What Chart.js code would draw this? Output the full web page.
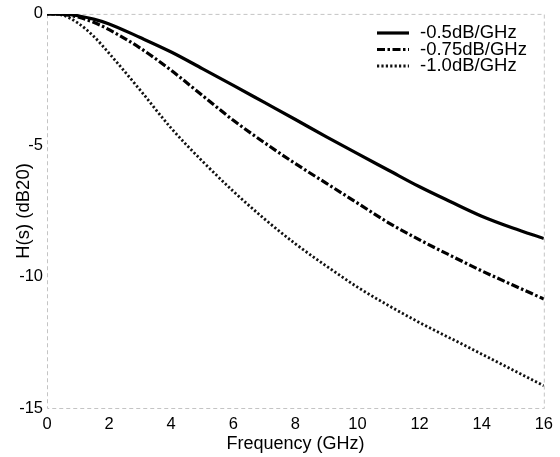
<!DOCTYPE html>
<html>
<head>
<meta charset="utf-8">
<script src="https://cdn.jsdelivr.net/npm/chart.js@4/dist/chart.umd.min.js"></script>
<style>
  body { margin: 0; background: #fff; }
  canvas { display: block; }
</style>
</head>
<body>
<canvas id="loss-chart" width="560" height="457"></canvas>
<script>
// frequency points (GHz) and the three loss curves (dB20)
const freq = [0, 0.5, 1, 1.5, 2, 3, 4, 5, 6, 7, 8, 9, 10, 11, 12, 13, 14, 15, 16];
const loss05 = [0, -0.01, -0.07, -0.2, -0.38, -0.9, -1.45, -2.08, -2.72, -3.37, -4.02, -4.68, -5.32, -5.95, -6.58, -7.15, -7.7, -8.15, -8.55];
const loss075 = [0, -0.02, -0.12, -0.32, -0.6, -1.3, -2.15, -3.1, -4.05, -4.9, -5.7, -6.45, -7.2, -7.95, -8.6, -9.2, -9.78, -10.32, -10.85];
const loss10 = [0, -0.05, -0.35, -0.85, -1.5, -2.9, -4.35, -5.6, -6.75, -7.8, -8.75, -9.6, -10.4, -11.1, -11.75, -12.35, -12.95, -13.55, -14.15];
const seriesLabels = ['-0.5dB/GHz', '-0.75dB/GHz', '-1.0dB/GHz'];
const xTicks = [0, 2, 4, 6, 8, 10, 12, 14, 16];
const yTicks = [0, -5, -10, -15];

const FONT = 'Arial, "Liberation Sans", sans-serif';

function points(values) {
    return freq.map((f, i) => ({ x: f, y: values[i] }));
}

// faint scanned-looking frame round the plot area
const framePlugin = {
    id: 'frame',
    beforeDatasetsDraw(chart) {
        const { ctx, chartArea: a } = chart;
        ctx.save();
        ctx.strokeStyle = '#c4c4c4';
        ctx.lineWidth = 1;
        ctx.setLineDash([4, 3]);
        ctx.strokeRect(a.left + 0.5, a.top + 0.5, a.right - a.left, a.bottom - a.top);
        ctx.restore();
    }
};

// legend drawn inside the plot, top right
const legendPlugin = {
    id: 'insideLegend',
    afterDatasetsDraw(chart) {
        const ctx = chart.ctx;
        ctx.save();
        chart.data.datasets.forEach((ds, i) => {
            const y = 33 + i * 16.5;
            ctx.strokeStyle = ds.borderColor;
            ctx.lineWidth = ds.borderWidth;
            ctx.setLineDash(ds.borderDash || []);
            ctx.beginPath();
            ctx.moveTo(377, y);
            ctx.lineTo(409, y);
            ctx.stroke();
            ctx.setLineDash([]);
            ctx.fillStyle = '#000';
            ctx.font = '18.5px ' + FONT;
            ctx.textBaseline = 'middle';
            ctx.textAlign = 'left';
            ctx.fillText(ds.label, 420, y);
        });
        ctx.restore();
    }
};

new Chart(document.querySelector('#loss-chart').getContext('2d'), {
    type: 'line',
    data: {
        datasets: [
            { label: seriesLabels[0], data: points(loss05), borderColor: '#000', borderWidth: 3.2, borderDash: [] },
            { label: seriesLabels[1], data: points(loss075), borderColor: '#000', borderWidth: 3.2, borderDash: [8, 2.5, 2.5, 2.5] },
            { label: seriesLabels[2], data: points(loss10), borderColor: '#111', borderWidth: 2.8, borderDash: [2.2, 2.2] }
        ]
    },
    options: {
        responsive: false,
        animation: false,
        layout: { padding: { top: 13, right: 15, left: 0, bottom: 0 } },
        elements: {
            point: { radius: 0 },
            line: { cubicInterpolationMode: 'monotone', borderCapStyle: 'butt' }
        },
        plugins: {
            legend: { display: false },
            tooltip: { enabled: false }
        },
        scales: {
            x: {
                type: 'linear',
                min: 0,
                max: 16,
                afterBuildTicks: axis => { axis.ticks = xTicks.map(v => ({ value: v })); },
                afterFit: axis => { axis.height = 49; },
                grid: { display: false, drawTicks: false },
                border: { display: false },
                ticks: { color: '#000', padding: 7, font: { family: FONT, size: 16.5 } },
                title: { display: true, text: 'Frequency (GHz)', color: '#000', padding: { top: 0, bottom: 2 }, font: { family: FONT, size: 18 } }
            },
            y: {
                min: -15,
                max: 0,
                afterBuildTicks: axis => { axis.ticks = yTicks.map(v => ({ value: v })); },
                afterFit: axis => { axis.width = 47; },
                grid: { display: false, drawTicks: false },
                border: { display: false },
                ticks: { color: '#000', padding: 4, font: { family: FONT, size: 16.5 } },
                title: { display: true, text: 'H(s) (dB20)', color: '#000', padding: { top: 13, bottom: 0 }, font: { family: FONT, size: 18.5 } }
            }
        }
    },
    plugins: [framePlugin, legendPlugin]
});
</script>
</body>
</html>
